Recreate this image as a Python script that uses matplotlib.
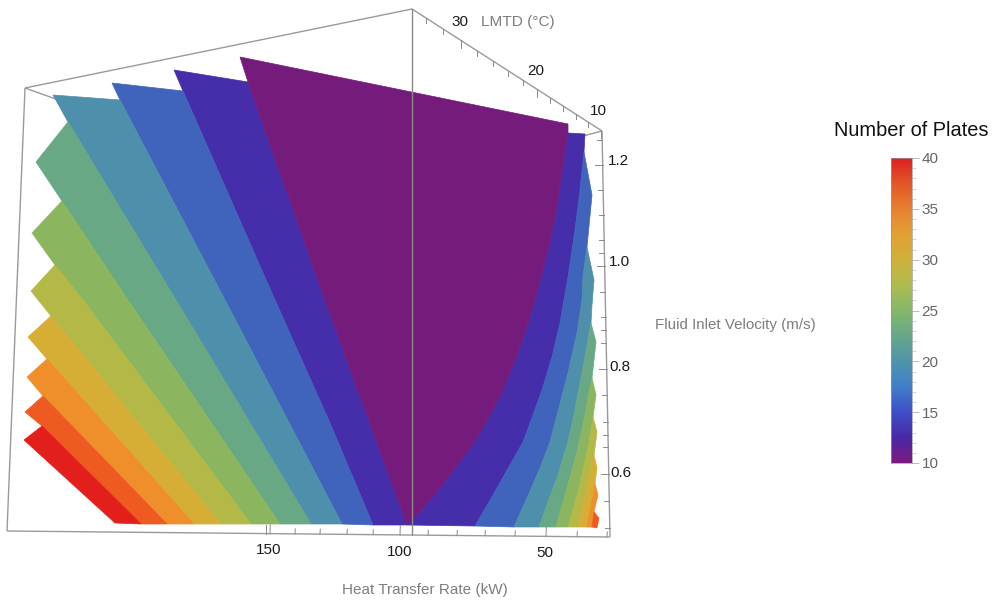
import matplotlib
matplotlib.use("Agg")
import matplotlib.pyplot as plt
import numpy as np
from matplotlib.colors import LinearSegmentedColormap
from matplotlib.ticker import MultipleLocator

plt.rcParams['font.family'] = ['Liberation Sans', 'DejaVu Sans']

# Plate-count bands, lowest to highest
BAND_COLORS = ['#751B7C', '#462DA9', '#4064BC', '#4E8FAB', '#68A885', '#8CB560',
               '#B3B847', '#D6AE36', '#EE8F2B', '#EE5A22', '#E31F1B']

# Contour outlines (projected): tip first, then the shared boundary
LEFT_BOUNDARIES = [
    [(240, 57), (248, 82), (325, 300), (407, 525)],
    [(174, 70), (183, 91), (275, 300), (330, 423), (373, 525)],
    [(112, 83), (120, 100), (225, 300), (342, 524)],
    [(53, 95), (68, 122), (176, 300), (311, 524)],
    [(36, 162), (62, 201), (128, 300), (280, 524)],
    [(32, 233), (55, 265), (83, 300), (251, 524)],
    [(31, 291), (51, 316), (221, 524)],
    [(28, 337), (47, 359), (194, 524)],
    [(27, 377), (43, 396), (167, 524)],
    [(25, 412), (42, 426), (141, 524)],
    [(24, 440), (115, 523)],
]
RIGHT_BOUNDARIES = [
    [(407, 525), (420, 512), (440, 488), (460, 462), (477, 438), (490, 415), (503, 390),
     (518, 353), (528, 323), (535, 300), (548, 250), (557, 207), (563, 163), (568, 133)],
    [(475, 526), (493, 495), (510, 465), (523, 442), (533, 415), (542, 390), (552, 357),
     (560, 323), (564, 300), (568, 277), (575, 230), (580, 190), (584, 152)],
    [(514, 527), (527, 498), (540, 468), (550, 442), (557, 415), (568, 373), (577, 333),
     (582, 300), (583, 277), (587, 247)],
    [(539, 527), (548, 502), (557, 478), (567, 445), (574, 415), (578, 393), (585, 357), (591, 323)],
    [(556, 527), (567, 488), (577, 452), (585, 415), (588, 397), (592, 378)],
    [(568, 527), (578, 492), (588, 448), (593, 417)],
    [(578, 527), (587, 488), (594, 455)],
    [(587, 527), (595, 484)],
    [(592, 527), (594, 512)],
    [(597, 528), (599, 518)],
]
RIGHT_TIPS = [[], [(585, 134)], [(592, 195)], [(592, 305), (594, 280)], [(596, 342)], [(596, 395)],
              [(597, 432)], [(597, 468)], [(598, 495)], []]
PURPLE_TOP_RIGHT = (568, 124)

# Bounding box edges
BOX_EDGES = [
    [(25, 88), (412, 9)], [(25, 88), (7, 531)], [(7, 531), (610, 537)],
    [(602, 131), (610, 537)], [(412, 9), (602, 131)],
    [(25, 88), (120, 122)], [(602, 131), (560, 142)],
]
CENTER_EDGE = [(412, 9), (412, 533)]

# Axis ticks
HEAT_TICK_VALUES = [150, 140, 130, 120, 110, 100, 90, 80, 70, 60, 50, 40, 30]
HEAT_TICK_X = [270, 295, 320, 347, 373, 400, 428, 457, 485, 515, 546, 577, 607]
HEAT_EXTRA_X = [266, 412]
HEAT_LABELS = [('150', 269, 550), ('100', 400, 552), ('50', 545, 553)]

VEL_TICK_VALUES = [1.24, 1.2, 1.16, 1.12, 1.08, 1.04, 1.0, 0.96, 0.92, 0.88, 0.84, 0.8,
                   0.76, 0.72, 0.68, 0.64, 0.6, 0.56, 0.52]
VEL_TICK_Y = [140, 165, 190, 215, 240, 253, 266, 292, 317, 330, 343, 369, 395, 422, 435, 447, 474, 501, 528]
VEL_LABELS = [('1.2', 618, 161), ('1.0', 619, 262), ('0.8', 620, 367), ('0.6', 621, 473)]

LMTD_TICK_VALUES = [34, 32, 30, 28, 26, 24, 22, 20, 18, 16, 14, 12, 10]
LMTD_TICK_X = [426, 443, 461, 477, 493, 508, 523, 537, 550, 563, 576, 588, 601]
LMTD_LABELS = [('30', 460, 22), ('20', 536, 71), ('10', 598, 111)]

# Colour legend
LEGEND_TICKS = [10, 15, 20, 25, 30, 35, 40]
LEGEND_STOPS = ['#7B1A80', '#4A28A8', '#3F50C8', '#4080C8', '#4F95AB', '#68A888', '#86B86A',
                '#B0BB50', '#CFB23A', '#E3A035', '#E88030', '#E35528', '#DD1F1F']

W, H = 993, 602
fig = plt.figure(figsize=(W / 100, H / 100), dpi=100, facecolor='white')
ax = fig.add_axes([0, 0, 1, 1])
ax.set_xlim(0, W)
ax.set_ylim(H, 0)
ax.axis('off')

LINE = '#9a9a9a'
for e in BOX_EDGES:
    xs, ys = zip(*e)
    ax.plot(xs, ys, color=LINE, lw=1.0, zorder=1, solid_capstyle='butt')


def fill(pts, color, z=2):
    xs, ys = zip(*pts)
    ax.fill(xs, ys, facecolor=color, edgecolor=color, lw=0.5, zorder=z)


# Purple central wedge
fill(LEFT_BOUNDARIES[0] + RIGHT_BOUNDARIES[0] + [PURPLE_TOP_RIGHT], BAND_COLORS[0], 3)

# Left fan
for k in range(1, 11):
    fill(LEFT_BOUNDARIES[k] + LEFT_BOUNDARIES[k - 1][1:][::-1], BAND_COLORS[k])

# Right fan
for k in range(1, 10):
    fill(RIGHT_BOUNDARIES[k] + RIGHT_TIPS[k] + RIGHT_BOUNDARIES[k - 1][::-1], BAND_COLORS[k])

# Centre edge lies in front of the surface
xs, ys = zip(*CENTER_EDGE)
ax.plot(xs, ys, color='#8a8a8a', lw=1.0, zorder=5)


def bottom_y(x):
    return 531 + (x - 7) * 6 / 603


def right_x(y):
    return 602 + (y - 131) * 8 / 405


def back_y(x):
    return 9 + (x - 412) * 122 / 190


TICK = '#8a8a8a'
for v, x in zip(HEAT_TICK_VALUES, HEAT_TICK_X):
    L = 9 if v % 50 == 0 else 5
    ax.plot([x, x + 0.3], [bottom_y(x), bottom_y(x) - L], color=TICK, lw=0.7, zorder=6)
for x in HEAT_EXTRA_X:
    ax.plot([x, x], [bottom_y(x), bottom_y(x) - 9], color=TICK, lw=0.7, zorder=6)
for v, y in zip(VEL_TICK_VALUES, VEL_TICK_Y):
    major = abs(v * 5 - round(v * 5)) < 1e-6
    L = 8 if major else 5
    ax.plot([right_x(y), right_x(y) - L], [y, y], color=TICK, lw=0.7, zorder=6)
for v, x in zip(LMTD_TICK_VALUES, LMTD_TICK_X):
    L = 8 if v % 10 == 0 else 5
    ax.plot([x, x], [back_y(x), back_y(x) + L], color=TICK, lw=0.7, zorder=6)

for group in (HEAT_LABELS, VEL_LABELS, LMTD_LABELS):
    for s, x, y in group:
        ax.text(x, y, s, ha='center', va='center', fontsize=11, color='#1a1a1a', zorder=7)

GRAY = '#7d7d7d'
ax.text(425, 590, 'Heat Transfer Rate (kW)', ha='center', va='center', fontsize=11, color=GRAY)
ax.text(735, 325, 'Fluid Inlet Velocity (m/s)', ha='center', va='center', fontsize=10.9, color=GRAY)
ax.text(518, 22, 'LMTD (°C)', ha='center', va='center', fontsize=11.1, color=GRAY)
ax.text(911, 130, 'Number of Plates', ha='center', va='center', fontsize=14.4, color='#111111')

# Colorbar
cmap = LinearSegmentedColormap.from_list('plates', LEGEND_STOPS)
cax = fig.add_axes([891 / W, 1 - 463 / H, 21 / W, 305 / H])
grad = np.linspace(10, 40, 256).reshape(-1, 1)
cax.imshow(grad, aspect='auto', origin='lower', cmap=cmap, extent=[0, 1, 10, 40])
cax.set_xticks([])
cax.yaxis.tick_right()
cax.set_yticks(LEGEND_TICKS)
cax.yaxis.set_minor_locator(MultipleLocator(1))
cax.tick_params(axis='y', which='major', length=5, width=0.7, color='#bbbbbb',
                labelsize=11, labelcolor='#666666', pad=2)
cax.tick_params(axis='y', which='minor', length=3, width=0.6, color='#cccccc')
for s in cax.spines.values():
    s.set_edgecolor('#999999')
    s.set_linewidth(0.5)

fig.savefig('out.png', dpi=100)
